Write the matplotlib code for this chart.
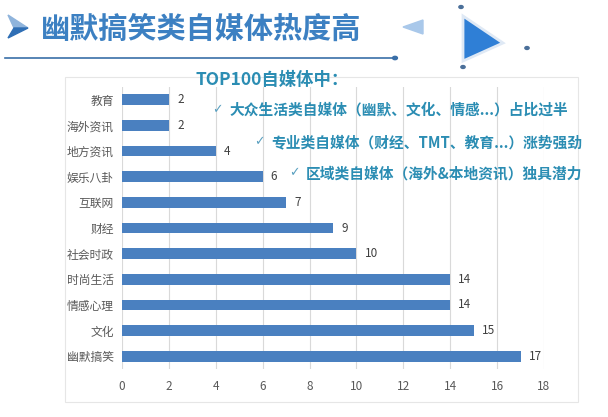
import matplotlib.pyplot as plt
from matplotlib.patches import Polygon, Rectangle, Circle
from matplotlib.lines import Line2D

plt.rcParams['font.family'] = ['Noto Sans CJK SC', 'DejaVu Sans']

# data (top -> bottom as in the picture)
categories = ['教育', '海外资讯', '地方资讯', '娱乐八卦', '互联网', '财经',
              '社会时政', '时尚生活', '情感心理', '文化', '幽默搞笑']
values = [2, 2, 4, 6, 7, 9, 10, 14, 14, 15, 17]
x_ticks = [0, 2, 4, 6, 8, 10, 12, 14, 16, 18]

title = '幽默搞笑类自媒体热度高'
notes_head = 'TOP100自媒体中：'
notes = ['大众生活类自媒体（幽默、文化、情感...）占比过半',
         '专业类自媒体（财经、TMT、教育...）涨势强劲',
         '区域类自媒体（海外&本地资讯）独具潜力']

bar_color = '#4a80c0'
teal = '#2b8db3'
gray = '#595959'

W, H = 608, 417


def fx(px):
    return px / W


def fy(py):
    return 1 - py / H


fig = plt.figure(figsize=(6.08, 4.17), dpi=100)
fig.patch.set_facecolor('white')

# chart frame
fig.patches.append(Rectangle((fx(65), fy(402)), 513 / W, 325 / H,
                             transform=fig.transFigure, fill=False,
                             edgecolor='#e6e6e6', linewidth=0.8))

ax = fig.add_axes([fx(122), fy(369), 422 / W, 282 / H])
ypos = list(range(len(categories)))[::-1]
ax.barh(ypos, values, height=0.42, color=bar_color, zorder=3)
for y, v in zip(ypos, values):
    ax.text(v + 0.35, y, str(v), va='center', ha='left', fontsize=8.5, color='#404040')

ax.set_yticks(ypos)
ax.set_yticklabels(categories, fontsize=8.5, color=gray)
ax.set_xticks(x_ticks)
ax.set_xticklabels([str(t) for t in x_ticks], fontsize=8.5, color=gray)
ax.set_xlim(0, 18)
ax.set_ylim(-0.5, len(categories) - 0.5)
ax.grid(axis='x', color='#d9d9d9', linewidth=0.8, zorder=0)
for s in ax.spines.values():
    s.set_visible(False)
ax.tick_params(length=0, pad=6)
ax.tick_params(axis='x', pad=8)

# title arrow (drawn as shape)
fig.patches.append(Polygon([[fx(8), fy(15)], [fx(28), fy(28)], [fx(14), fy(28)]],
                           closed=True, transform=fig.transFigure, color='#8fb4dc'))
fig.patches.append(Polygon([[fx(14), fy(28)], [fx(28), fy(28)], [fx(8), fy(38)]],
                           closed=True, transform=fig.transFigure, color='#2f6fb5'))

fig.text(fx(41), fy(29), title, fontsize=21, fontweight='bold',
         color='#3c80c2', va='center')
fig.lines.append(Line2D([fx(5), fx(394)], [fy(58), fy(58)],
                        transform=fig.transFigure, color='#3a6fa8', linewidth=1.2))
fig.patches.append(Circle((fx(395), fy(58)), 0.004, transform=fig.transFigure,
                          color='#3a6fa8'))

# decorative triangles and dots
fig.patches.append(Polygon([[fx(403), fy(27)], [fx(423), fy(20)], [fx(423), fy(34)]],
                           closed=True, transform=fig.transFigure, color='#a9c8ea'))
fig.patches.append(Polygon([[fx(463), fy(16)], [fx(503), fy(43)], [fx(463), fy(61)]],
                           closed=True, transform=fig.transFigure, facecolor='#2f7fd6',
                           edgecolor='#dfe9f5', linewidth=2))
for cx, cy in [(461, 7), (527, 48), (463, 67)]:
    fig.patches.append(Circle((fx(cx), fy(cy)), 0.0035, transform=fig.transFigure,
                              color='#4a6f99'))

# notes
fig.text(fx(195), fy(80), notes_head, fontsize=12.5, fontweight='bold',
         color=teal, va='center')
for (x0, y0), note in zip([(212, 110), (254, 142), (289, 173)], notes):
    fig.text(fx(x0), fy(y0), '✓', fontsize=9, color='#5aa0c0', va='center',
             family=['DejaVu Sans'])
    fig.text(fx(x0 + 17), fy(y0), note, fontsize=10.6, fontweight='bold',
             color=teal, va='center')

fig.savefig('out.png', dpi=100)
